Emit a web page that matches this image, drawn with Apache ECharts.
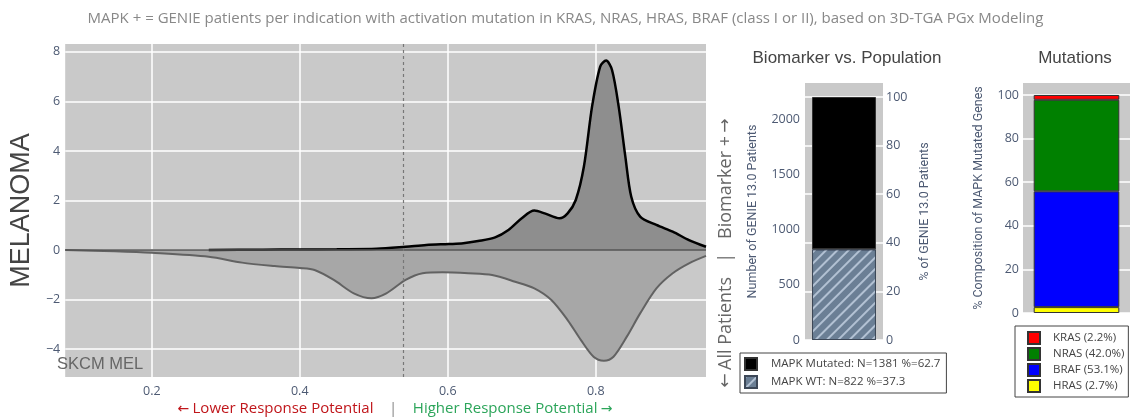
<!DOCTYPE html>
<html>
<head>
<meta charset="utf-8">
<script src="https://cdn.jsdelivr.net/npm/echarts@6/dist/echarts.min.js"></script>
<style>
  html, body { margin: 0; padding: 0; background: #fff; }
  #chart { width: 1131px; height: 419px; }
</style>
</head>
<body>
<div id="chart"></div>
<script>
// density of biomarker + patients (upper half)
const biomarkerX = [0.277, 0.35, 0.4, 0.45, 0.504, 0.543, 0.571, 0.601, 0.621, 0.641, 0.664, 0.682, 0.700, 0.717, 0.731, 0.751, 0.762, 0.773, 0.784, 0.795, 0.806, 0.814, 0.822, 0.831, 0.840, 0.848, 0.860, 0.882, 0.904, 0.926, 0.949];
const biomarkerY = [0, 0.01, 0.02, 0.03, 0.05, 0.13, 0.2, 0.24, 0.27, 0.36, 0.51, 0.81, 1.28, 1.59, 1.48, 1.28, 1.48, 2.02, 3.37, 5.79, 7.41, 7.65, 7.27, 5.79, 3.77, 2.15, 1.35, 1.01, 0.74, 0.40, 0.13];

// density of all patients (lower half, mirrored)
const allX = [0.083, 0.15, 0.2, 0.277, 0.322, 0.366, 0.4, 0.42, 0.446, 0.473, 0.497, 0.517, 0.543, 0.566, 0.593, 0.628, 0.66, 0.691, 0.717, 0.74, 0.762, 0.78, 0.797, 0.811, 0.824, 0.842, 0.86, 0.882, 0.904, 0.926, 0.949];
const allY = [0, -0.05, -0.11, -0.27, -0.51, -0.65, -0.73, -0.81, -1.21, -1.75, -1.95, -1.75, -1.21, -0.94, -0.9, -0.94, -1.01, -1.28, -1.55, -2.02, -2.83, -3.64, -4.31, -4.47, -4.31, -3.5, -2.56, -1.55, -0.94, -0.54, -0.24];

const cutoff = 0.543;
const xTicks = [0.2, 0.4, 0.6, 0.8];
const yTicks = [-4, -2, 0, 2, 4, 6, 8];

// biomarker vs population
const popNames = ['MAPK Mutated', 'MAPK WT'];
const popCounts = [1381, 822];
const popPct = [62.7, 37.3];
const popTicks = [0, 500, 1000, 1500, 2000];
const pctTicks = [0, 20, 40, 60, 80, 100];

// mutation composition
const mutNames = ['KRAS', 'NRAS', 'BRAF', 'HRAS'];
const mutPct = [2.2, 42.0, 53.1, 2.7];
const mutColors = ['#ff0000', '#008000', '#0000ff', '#ffff00'];

const total = popCounts[0] + popCounts[1];
const popMax = 2330;

const chart = echarts.init(document.getElementById('chart'));

const tickFont = { color: '#4d5a73', fontSize: 12.5, fontFamily: 'Open Sans' };
const axisTitleFont = { fontSize: 12.5, color: '#4d5a73', fontFamily: 'Roboto' };
const arrow = { fontFamily: 'DejaVu Sans' };

const mutSeries = mutNames.map((n, i) => ({ name: n, pct: mutPct[i], color: mutColors[i] })).reverse();

const option = {
  animation: false,
  title: {
    text: 'MAPK + = GENIE patients per indication with activation mutation in KRAS, NRAS, HRAS, BRAF (class I or II), based on 3D-TGA PGx Modeling',
    left: 'center',
    top: 6,
    textStyle: { fontSize: 15, fontWeight: 'normal', color: '#888', fontFamily: 'Open Sans' }
  },
  grid: [
    { left: 54, top: 44, width: 652, height: 333, show: true, backgroundColor: '#c9c9c9', borderWidth: 0 },
    { left: 805, top: 83, width: 78, height: 257, show: true, backgroundColor: '#c9c9c9', borderWidth: 0 },
    { left: 1023, top: 83, width: 107, height: 230, show: true, backgroundColor: '#c9c9c9', borderWidth: 0 }
  ],
  xAxis: [
    {
      gridIndex: 0, type: 'value', min: 0.083, max: 0.949,
      axisLine: { show: false },
      axisTick: { show: false, customValues: xTicks },
      axisLabel: { customValues: xTicks, ...tickFont, margin: 8 },
      splitLine: { show: true, lineStyle: { color: '#fff', width: 1.5 } }
    },
    { gridIndex: 1, type: 'category', data: ['MELANOMA'], show: false },
    { gridIndex: 2, type: 'category', data: ['MELANOMA'], show: false }
  ],
  yAxis: [
    {
      gridIndex: 0, type: 'value', min: -5.13, max: 8.32,
      name: 'MELANOMA', nameLocation: 'middle', nameGap: 30,
      nameTextStyle: { fontSize: 27, color: '#444', fontFamily: 'Liberation Sans' },
      axisLine: { show: false },
      axisTick: { show: false, customValues: yTicks },
      axisLabel: { customValues: yTicks, ...tickFont, margin: 5, formatter: v => String(v).replace('-', '\u2212') },
      splitLine: { show: true, lineStyle: { color: '#fff', width: 1.5 } }
    },
    {
      gridIndex: 1, type: 'value', min: 0, max: popMax,
      name: 'Number of GENIE 13.0 Patients', nameLocation: 'middle', nameGap: 46,
      nameTextStyle: axisTitleFont,
      axisLine: { show: false },
      axisTick: { show: false, customValues: popTicks },
      axisLabel: { customValues: popTicks, ...tickFont, margin: 5, formatter: v => String(v) },
      splitLine: { show: false }
    },
    {
      gridIndex: 1, type: 'value', position: 'right', min: 0, max: popMax / total * 100,
      name: '% of GENIE 13.0 Patients', nameLocation: 'middle', nameGap: 35,
      nameTextStyle: axisTitleFont,
      axisLine: { show: false },
      axisTick: { show: false, customValues: pctTicks },
      axisLabel: { customValues: pctTicks, ...tickFont, margin: 3 },
      splitLine: { show: true, lineStyle: { color: '#fff', width: 1.5 } }
    },
    {
      gridIndex: 2, type: 'value', min: 0, max: 105.5,
      name: '% Composition of MAPK Mutated Genes', nameLocation: 'middle', nameGap: 38,
      nameTextStyle: axisTitleFont,
      axisLine: { show: false },
      axisTick: { show: false, customValues: pctTicks },
      axisLabel: { customValues: pctTicks, ...tickFont, margin: 4 },
      splitLine: { show: true, lineStyle: { color: '#fff', width: 1.5 } }
    }
  ],
  legend: [
    {
      data: popNames, orient: 'vertical', left: 740, top: 353,
      padding: [4, 6, 4, 4], itemGap: 4, itemWidth: 12, itemHeight: 12, icon: 'rect',
      borderColor: '#444', borderWidth: 1, backgroundColor: '#fff',
      formatter: name => {
        const i = popNames.indexOf(name);
        return name + ': N=' + popCounts[i] + ' %=' + popPct[i];
      },
      textStyle: { fontSize: 11.5, color: '#444', fontFamily: 'Open Sans', padding: [0, 0, 0, 9] }
    },
    {
      data: mutNames, orient: 'vertical', left: 1015, top: 326,
      padding: [5, 4, 4, 12], itemGap: 2, itemWidth: 12, itemHeight: 12, icon: 'rect',
      borderColor: '#444', borderWidth: 1, backgroundColor: '#fff',
      formatter: name => name + ' (' + mutPct[mutNames.indexOf(name)].toFixed(1) + '%)',
      textStyle: { fontSize: 11.5, color: '#444', fontFamily: 'Open Sans', padding: [0, 0, 0, 8] }
    }
  ],
  series: [
    {
      type: 'line', xAxisIndex: 0, yAxisIndex: 0, smooth: 0.3, symbol: 'none',
      data: allX.map((x, i) => [x, allY[i]]),
      lineStyle: { color: '#626262', width: 2 },
      areaStyle: { color: '#a7a7a7', opacity: 1 },
      z: 2,
      markLine: {
        silent: true, symbol: 'none', label: { show: false },
        data: [
          { yAxis: 0, lineStyle: { color: '#555', width: 1.5, type: 'solid' } },
          { xAxis: cutoff, lineStyle: { color: '#777', width: 1.2, type: [3, 3] } }
        ]
      }
    },
    {
      type: 'line', xAxisIndex: 0, yAxisIndex: 0, smooth: 0.3, symbol: 'none',
      data: biomarkerX.map((x, i) => [x, biomarkerY[i]]),
      lineStyle: { color: '#000', width: 2.5 },
      areaStyle: { color: '#8e8e8e', opacity: 1 },
      z: 3
    },
    {
      name: popNames[1], type: 'bar', xAxisIndex: 1, yAxisIndex: 1, stack: 'pop', barWidth: '82%',
      data: [popCounts[1]],
      itemStyle: {
        color: '#6b7f95', borderColor: '#3d4858', borderWidth: 1,
        decal: { symbol: 'rect', symbolSize: 1, dashArrayX: [1, 0], dashArrayY: [1.5, 5.5], rotation: -Math.PI / 4, color: 'rgba(190,205,222,0.85)' }
      }
    },
    {
      name: popNames[0], type: 'bar', xAxisIndex: 1, yAxisIndex: 1, stack: 'pop', barWidth: '82%',
      data: [popCounts[0]],
      itemStyle: { color: '#000', borderColor: '#333', borderWidth: 1 }
    },
    ...mutSeries.map(s => ({
      name: s.name, type: 'bar', xAxisIndex: 2, yAxisIndex: 3, stack: 'mut', barWidth: '80%',
      data: [s.pct],
      itemStyle: { color: s.color, borderColor: '#333', borderWidth: 1 }
    }))
  ],
  graphic: [
    {
      type: 'text', left: 57, top: 356, silent: true,
      style: { text: 'SKCM MEL', fontSize: 16.5, fill: '#666', fontFamily: 'Liberation Sans' }
    },
    {
      type: 'text', x: 847, y: 58, silent: true,
      style: { text: 'Biomarker vs. Population', fontSize: 17, fill: '#444', fontFamily: 'Liberation Sans', align: 'center', verticalAlign: 'middle' }
    },
    {
      type: 'text', x: 1075, y: 58, silent: true,
      style: { text: 'Mutations', fontSize: 17, fill: '#444', fontFamily: 'Liberation Sans', align: 'center', verticalAlign: 'middle' }
    },
    {
      type: 'text', x: 726, y: 253, rotation: Math.PI / 2, silent: true,
      style: {
        text: '{a|\u2190} {t|All Patients   |   Biomarker +} {a|\u2192}',
        align: 'center', verticalAlign: 'middle',
        rich: {
          a: { fontSize: 17, fill: '#666', ...arrow },
          t: { fontSize: 18, fill: '#666', fontFamily: 'Open Sans' }
        }
      }
    },
    {
      type: 'text', x: 395, y: 409, silent: true,
      style: {
        text: '{ra|\u2190} {r|Lower Response Potential}{g|    |    }{h|Higher Response Potential} {ha|\u2192}',
        align: 'center', verticalAlign: 'middle',
        rich: {
          ra: { fontSize: 14, fill: '#c0161b', ...arrow },
          r: { fontSize: 15, fill: '#c0161b', fontFamily: 'Open Sans' },
          g: { fontSize: 15, fill: '#888', fontFamily: 'Open Sans' },
          h: { fontSize: 15, fill: '#2ca55a', fontFamily: 'Open Sans' },
          ha: { fontSize: 14, fill: '#2ca55a', ...arrow }
        }
      }
    }
  ]
};

chart.setOption(option);
window.addEventListener('resize', () => chart.resize());
</script>
</body>
</html>
